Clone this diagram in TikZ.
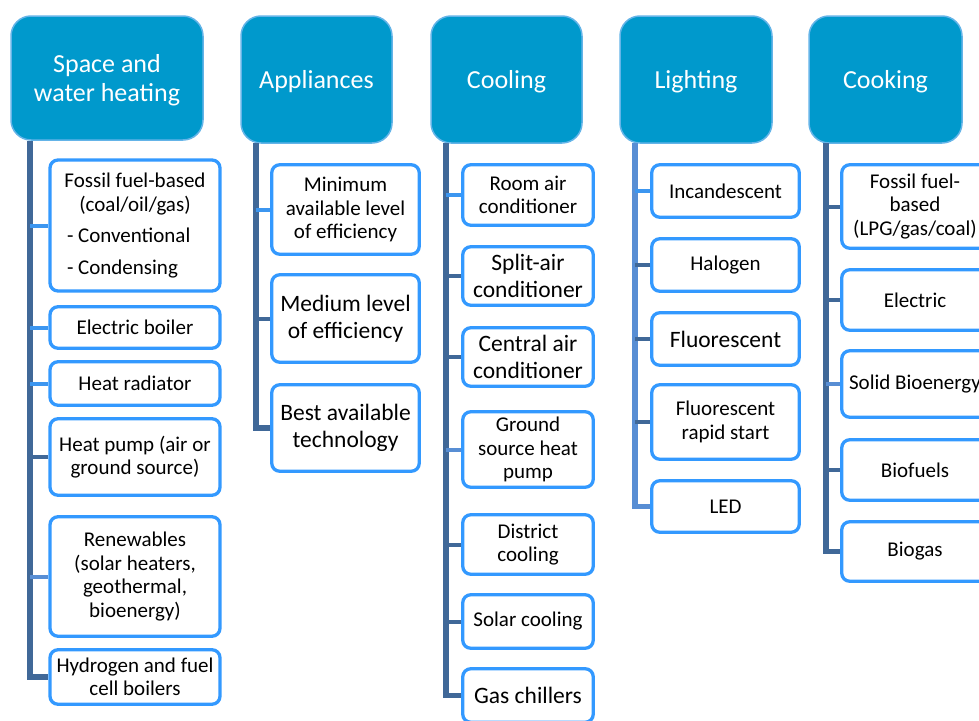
\documentclass[tikz,border=0pt]{standalone}
\usepackage{fontspec}
\setmainfont{Carlito}
\definecolor{HeadClr}{RGB}{0,153,204}
\definecolor{HeadRim}{RGB}{100,180,232}
\definecolor{BoxClr}{RGB}{51,153,255}
\definecolor{TrunkClr}{RGB}{64,104,152}
\definecolor{TrunkLight}{RGB}{88,142,212}
\definecolor{StubLight}{RGB}{60,150,240}
\newcommand{\sizeN}{\fontsize{21}{23.5}\selectfont}
\newcommand{\sizeB}{\fontsize{23.5}{26.5}\selectfont}
\newcommand{\sizeH}{\fontsize{26}{29.5}\selectfont}

\begin{document}
\begin{tikzpicture}[x=1pt,y=-1pt,
  topbox/.style={draw=HeadRim,line width=1.5pt,fill=HeadClr,text=white,
    rounded corners=20pt,align=center,inner sep=0pt,text depth=0pt,font=\sizeH},
  subbox/.style={draw=BoxClr,line width=3.3pt,fill=white,
    rounded corners=8pt,align=center,inner sep=0pt,font=\sizeN},
  subboxbig/.style={subbox,font=\sizeB},
  trunkline/.style={draw=TrunkClr,line width=5.5pt},
  stubline/.style={draw=TrunkClr,line width=4pt},
  stublight/.style={draw=StubLight,line width=4pt}]
\useasboundingbox (0,0) rectangle (979,720);

\node[topbox,minimum width=192pt,minimum height=124pt] (heat) at (107,78) {Space and\\water heating};
\node[topbox,minimum width=151pt,minimum height=127pt] (appl) at (316.5,79.5) {Appliances};
\node[topbox,minimum width=151pt,minimum height=127pt] (cool) at (506.5,79.5) {Cooling};
\node[topbox,minimum width=152pt,minimum height=127pt] (light) at (696,79.5) {Lighting};
\node[topbox,minimum width=153pt,minimum height=127pt] (cook) at (885.5,79.5) {Cooking};

\coordinate (t1) at (30,141);
\coordinate (t2) at (256,143);
\coordinate (t3) at (446,143);
\coordinate (t4) at (635,143);
\coordinate (t5) at (826,143);

\node[subbox,minimum width=170pt,minimum height=131pt] (heat1) at (135,225.5)
  {Fossil fuel-based\\(coal/oil/gas)\\[8pt]\makebox[136pt][l]{- Conventional}\\[8pt]\makebox[136pt][l]{- Condensing}};
\node[subbox,minimum width=170pt,minimum height=41.5pt] (heat2) at (135,327.5) {Electric boiler};
\node[subbox,minimum width=170pt,minimum height=43.5pt] (heat3) at (135,383.5) {Heat radiator};
\node[subbox,minimum width=170pt,minimum height=76.5pt] (heat4) at (135,457) {Heat pump (air or\\ground source)};
\node[subbox,minimum width=170pt,minimum height=119.5pt] (heat5) at (135,576.5) {Renewables\\(solar heaters,\\geothermal,\\bioenergy)};
\node[subbox,minimum width=170pt,minimum height=54.5pt] (heat6) at (135,677) {Hydrogen and fuel\\cell boilers};

\node[subbox,minimum width=147.5pt,minimum height=89.5pt] (appl1) at (345.5,209.5) {Minimum\\available level\\of efficiency};
\node[subboxbig,minimum width=147.5pt,minimum height=87.5pt] (appl2) at (345.5,318.5) {Medium level\\of efficiency};
\node[subboxbig,minimum width=147.5pt,minimum height=86.5pt] (appl3) at (345.5,428) {Best available\\technology};

\node[subbox,minimum width=130.5pt,minimum height=60.5pt] (cool1) at (528,195) {Room air\\conditioner};
\node[subboxbig,minimum width=130.5pt,minimum height=58.5pt] (cool2) at (528,276) {Split-air\\conditioner};
\node[subboxbig,minimum width=130.5pt,minimum height=58.5pt] (cool3) at (528,357) {Central air\\conditioner};
\node[subbox,minimum width=130.5pt,minimum height=75.5pt] (cool4) at (528,449.5) {Ground\\source heat\\pump};
\node[subbox,minimum width=130.5pt,minimum height=59.5pt] (cool5) at (528,544.5) {District\\cooling};
\node[subbox,minimum width=130.5pt,minimum height=53.5pt] (cool6) at (528,621.5) {Solar cooling};
\node[subboxbig,minimum width=130.5pt,minimum height=53.5pt] (cool7) at (528,695.5) {Gas chillers};

\node[subbox,minimum width=147.5pt,minimum height=52.5pt] (light1) at (725.5,191) {Incandescent};
\node[subbox,minimum width=147.5pt,minimum height=52.5pt] (light2) at (725.5,265) {Halogen};
\node[subboxbig,minimum width=147.5pt,minimum height=52.5pt] (light3) at (725.5,339) {Fluorescent};
\node[subbox,minimum width=147.5pt,minimum height=74.5pt] (light4) at (725.5,422) {Fluorescent\\rapid start};
\node[subbox,minimum width=147.5pt,minimum height=51.5pt] (light5) at (725.5,506.5) {LED};

\node[subbox,minimum width=146.5pt,minimum height=83.5pt] (cook1) at (915,206.5) {Fossil fuel-\\based\\(LPG/gas/coal)};
\node[subbox,minimum width=146.5pt,minimum height=60.5pt] (cook2) at (915,300) {Electric};
\node[subbox,minimum width=146.5pt,minimum height=66.5pt] (cook3) at (915,384) {Solid Bioenergy};
\node[subbox,minimum width=146.5pt,minimum height=60.5pt] (cook4) at (915,470) {Biofuels};
\node[subbox,minimum width=146.5pt,minimum height=59.5pt] (cook5) at (915,551.5) {Biogas};

\draw[trunkline] (t1) |- (heat6.west);
\draw[stublight] (heat1.west) -- (heat1.west -| t1);
\draw[stublight] (heat2.west) -- (heat2.west -| t1);
\draw[stublight] (heat3.west) -- (heat3.west -| t1);
\draw[stubline] (heat4.west) -- (heat4.west -| t1);
\draw[stubline,draw=TrunkLight] (heat5.west) -- (heat5.west -| t1);

\draw[trunkline] (t2) |- (appl3.west);
\draw[stublight] (appl1.west) -- (appl1.west -| t2);
\draw[stubline] (appl2.west) -- (appl2.west -| t2);

\draw[trunkline] (t3) |- (cool7.west);
\draw[stublight] (cool1.west) -- (cool1.west -| t3);
\draw[stubline] (cool2.west) -- (cool2.west -| t3);
\draw[stubline] (cool3.west) -- (cool3.west -| t3);
\draw[stubline,draw=TrunkLight] (cool4.west) -- (cool4.west -| t3);
\draw[stubline] (cool5.west) -- (cool5.west -| t3);
\draw[stubline] (cool6.west) -- (cool6.west -| t3);

\draw[trunkline,draw=TrunkLight] (t4) |- (light5.west);
\draw[stublight] (light1.west) -- (light1.west -| t4);
\draw[stubline] (light2.west) -- (light2.west -| t4);
\draw[stubline] (light3.west) -- (light3.west -| t4);
\draw[stubline] (light4.west) -- (light4.west -| t4);

\draw[trunkline] (t5) |- (cook5.west);
\draw[stubline] (cook1.west) -- (cook1.west -| t5);
\draw[stubline] (cook2.west) -- (cook2.west -| t5);
\draw[stubline,draw=TrunkLight] (cook3.west) -- (cook3.west -| t5);
\draw[stubline] (cook4.west) -- (cook4.west -| t5);

\end{tikzpicture}
\end{document}
